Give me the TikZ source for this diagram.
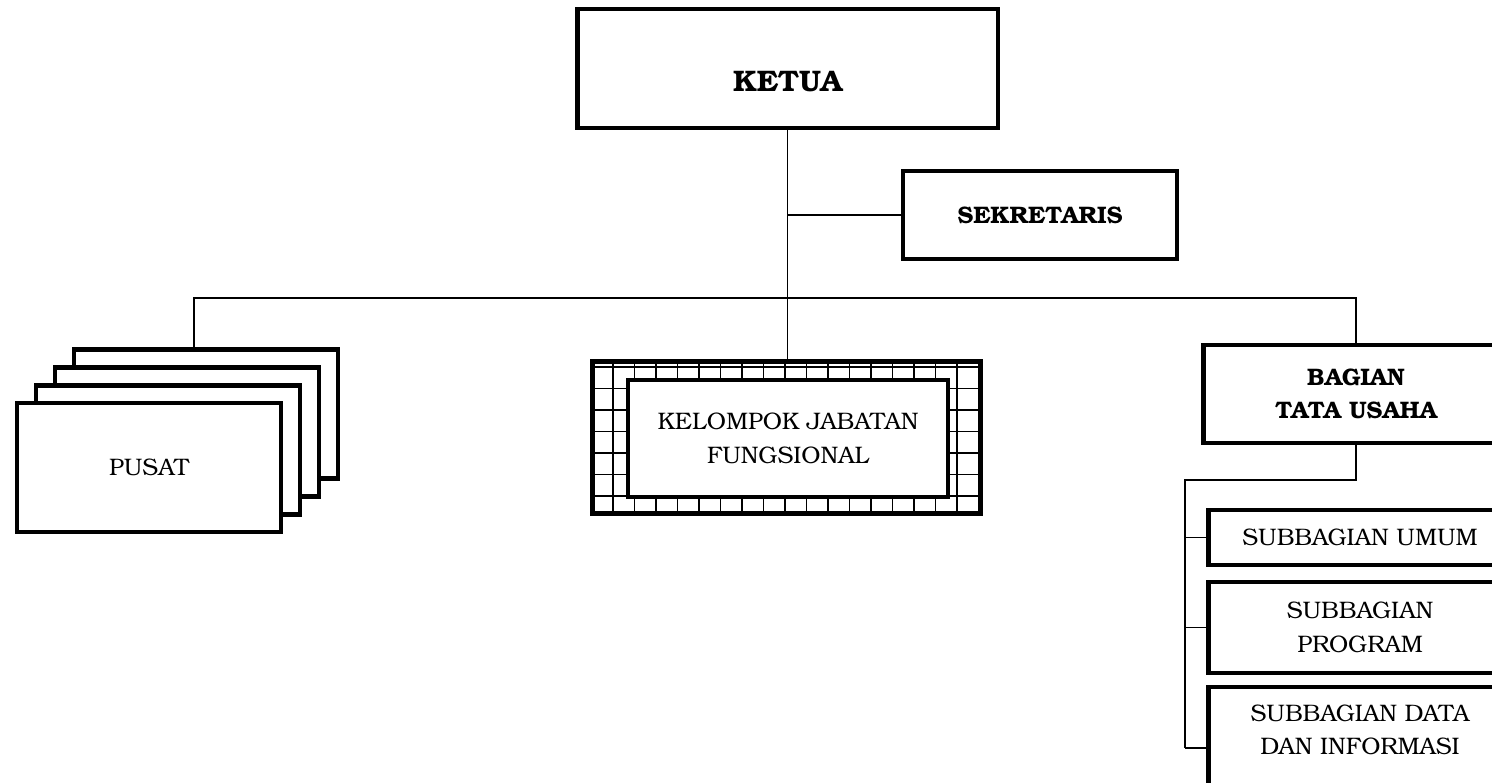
\documentclass[tikz,border=0pt]{standalone}
\usepackage{fontspec}
\setmainfont{TeX Gyre Bonum}

\tikzset{
  unit/.style={draw,line width=2.8pt,fill=white,align=center,inner sep=2pt,
    font=\fontsize{13.6}{19}\selectfont},
  head/.style={unit,font=\fontsize{13.6}{19}\selectfont\bfseries},
  conn/.style={line width=0.85pt},
}

\begin{document}
\begin{tikzpicture}[x=0.02cm,y=-0.02cm]
  \useasboundingbox (0,0) rectangle (1492,783);
  % Ketua and Sekretaris
  \node[unit,minimum width=8.42cm,minimum height=2.38cm,
    label={[font=\fontsize{16.9}{20}\selectfont\bfseries,yshift=-0.27cm]center:KETUA}]
    (ketua) at (787.5,68.5) {};
  \node[head,minimum width=5.48cm,minimum height=1.76cm] (sekretaris) at (1040,215) {SEKRETARIS};
  % Pusat (stacked cards)
  \foreach \k/\name in {3/pusatD,2/pusatC,1/pusatB}
    \node[unit,minimum width=5.28cm,minimum height=2.58cm] (\name) at ({149+19*\k},{467.5-17.7*\k}) {};
  \node[unit,minimum width=5.28cm,minimum height=2.58cm] (pusat) at (149,467.5) {PUSAT};
  % Kelompok jabatan fungsional (grid frame)
  \node[minimum width=7.74cm,minimum height=3.02cm,inner sep=0pt] (kjfframe) at (786.5,437.5) {};
  \begin{scope}
    \clip (kjfframe.south west) rectangle (kjfframe.north east);
    \foreach \k in {0,...,18}
      \draw[line width=1.1pt] ({591.5+21.5*\k},350) -- ++(0,180);
    \foreach \k in {0,...,6}
      \draw[line width=1.1pt] (580,{367+21.5*\k}) -- ++(420,0);
  \end{scope}
  \draw[line width=2.8pt] (kjfframe.south west) rectangle (kjfframe.north east);
  \node[unit,minimum width=6.4cm,minimum height=2.34cm] (kjf) at (788,438.5) {KELOMPOK JABATAN\\FUNGSIONAL};
  % Bagian tata usaha
  \node[head,minimum width=6.12cm,minimum height=1.96cm] (bagian) at (1356,394) {BAGIAN\\TATA USAHA};
  \node[unit,minimum width=6.08cm,minimum height=1.1cm] (subumum) at (1360,537.5) {SUBBAGIAN UMUM};
  \node[unit,minimum width=6.08cm,minimum height=1.82cm] (subprogram) at (1360,627.5) {SUBBAGIAN\\PROGRAM};
  \node[unit,minimum width=6.08cm,minimum height=2.26cm,
    label={[align=center,font=\fontsize{13.6}{19}\selectfont,yshift=0.27cm]center:SUBBAGIAN DATA\\DAN INFORMASI}]
    (subdata) at (1360,743.5) {};
  % Lines
  \coordinate (busL) at (194,298);
  \coordinate (busR) at (1356,298);
  \coordinate (spine) at (1185,480);
  \coordinate (spineEnd) at (1185,748);
  \draw[conn] (ketua.south) -- (ketua.south |- kjfframe.north);
  \draw[conn] (sekretaris.west) -- (sekretaris.west -| ketua.south);
  \draw[conn] (busL |- pusatD.north) -- (busL) -- (busR) -- (bagian.north);
  \draw[conn] (bagian.south) |- (spine) -- (spineEnd);
  \draw[conn] (spine |- subumum.west) -- (subumum.west);
  \draw[conn] (spine |- subprogram.west) -- (subprogram.west);
  \draw[conn] (spineEnd) -- (spineEnd -| subdata.west);
\end{tikzpicture}
\end{document}
